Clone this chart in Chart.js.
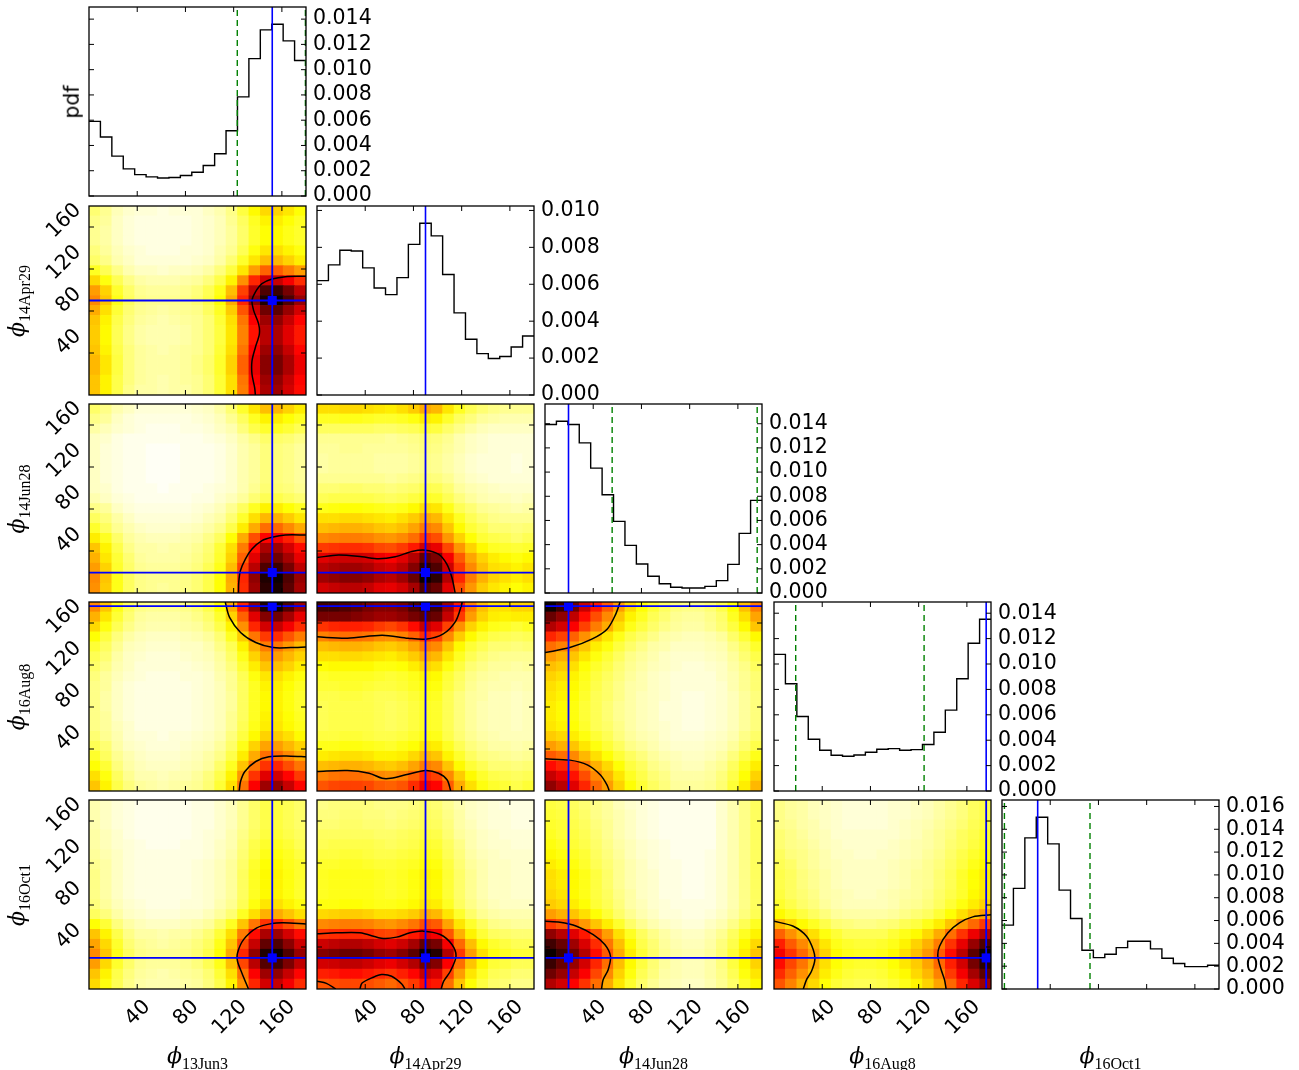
<!DOCTYPE html>
<html>
<head>
<meta charset="utf-8">
<script src="https://cdn.jsdelivr.net/npm/chart.js@4.4.0/dist/chart.umd.min.js"></script>
<style>
    body { margin: 0; background: #fff; width: 1299px; height: 1070px; position: relative; overflow: hidden; }
    canvas { position: absolute; }
    .lab { position: absolute; white-space: nowrap; color: #000; line-height: 1; }
    .phi { font-family: 'DejaVu Serif', serif; font-style: italic; font-size: 22px; }
    .sub { font-family: 'Liberation Serif', serif; font-size: 16px; position: relative; top: 6px; }
    .pdf { font-family: 'DejaVu Sans', sans-serif; font-size: 20.5px; }
</style>
</head>
<body>
<script>
// parameters, in panel order
var variables = ['13Jun3', '14Apr29', '14Jun28', '16Aug8', '16Oct1'];
var binEdges = [0, 9.47, 18.95, 28.42, 37.89, 47.37, 56.84, 66.32, 75.79, 85.26, 94.74,
    104.21, 113.68, 123.16, 132.63, 142.11, 151.58, 161.05, 170.53, 180];
var angleTicks = [40, 80, 120, 160];

// 1D marginal pdfs (19 bins each)
var pdf13Jun3 = [0.00591, 0.00467, 0.00316, 0.00215, 0.00169, 0.00151, 0.00143, 0.00146, 0.00162, 0.00188,
    0.00241, 0.00334, 0.00517, 0.00785, 0.01087, 0.01315, 0.0136, 0.01228, 0.01072];
var pdf14Apr29 = [0.0062, 0.00705, 0.00784, 0.0078, 0.00689, 0.0058, 0.00544, 0.00636, 0.00816, 0.00931,
    0.00862, 0.00653, 0.00445, 0.00302, 0.00224, 0.00198, 0.00209, 0.0026, 0.0032];
var pdf14Jun28 = [0.01394, 0.01421, 0.01394, 0.01242, 0.01033, 0.00813, 0.00592, 0.00394, 0.0024, 0.00138,
    0.00077, 0.00047, 0.00041, 0.00041, 0.00055, 0.00102, 0.00237, 0.00493, 0.00766];
var pdf16Aug8 = [0.01076, 0.00845, 0.00587, 0.00408, 0.00321, 0.00282, 0.00274, 0.00284, 0.00305, 0.00329,
    0.00334, 0.00321, 0.00326, 0.00366, 0.00463, 0.00637, 0.00884, 0.01163, 0.01353];
var pdf16Oct1 = [0.0056, 0.00882, 0.01325, 0.01506, 0.01272, 0.00867, 0.00618, 0.0034, 0.00275, 0.00305,
    0.00363, 0.00419, 0.00419, 0.00352, 0.0027, 0.00223, 0.00196, 0.00196, 0.00208];

var pdfTicks13Jun3 = [0, 0.002, 0.004, 0.006, 0.008, 0.010, 0.012, 0.014];
var pdfTicks14Apr29 = [0, 0.002, 0.004, 0.006, 0.008, 0.010];
var pdfTicks14Jun28 = [0, 0.002, 0.004, 0.006, 0.008, 0.010, 0.012, 0.014];
var pdfTicks16Aug8 = [0, 0.002, 0.004, 0.006, 0.008, 0.010, 0.012, 0.014];
var pdfTicks16Oct1 = [0, 0.002, 0.004, 0.006, 0.008, 0.010, 0.012, 0.014, 0.016];

// best values (blue) and interval bounds (green dashed)
var bestFit = [152, 90, 19.5, 176, 29.6];
var interval13Jun3 = [123, 179.5];
var interval14Apr29 = [];
var interval14Jun28 = [55.7, 176];
var interval16Aug8 = [18, 124.5];
var interval16Oct1 = [2, 73];

// 2D densities, percent of panel maximum; first string = top row (y bin 18)
var grid14Apr29_13Jun3 = [
    '14 11 7 5 4 4 3 4 4 4 6 8 12 19 26 31 32 29 25',
    '12 10 6 4 3 3 3 3 3 4 5 7 11 16 22 27 28 25 22',
    '11 9 6 4 3 3 3 3 3 4 5 7 10 15 21 25 26 23 21',
    '11 9 6 4 3 3 3 3 3 4 5 7 10 15 21 25 26 23 21',
    '13 10 7 5 4 3 3 3 4 4 5 8 11 17 24 29 30 27 24',
    '15 12 8 6 4 4 4 4 4 5 6 9 14 21 29 35 36 32 28',
    '22 17 12 8 6 6 5 6 6 7 9 13 19 29 40 49 50 45 40',
    '31 24 17 12 9 8 8 8 9 10 13 18 27 42 58 70 72 65 57',
    '40 32 21 15 11 10 10 10 11 13 17 23 35 54 74 90 93 84 73',
    '43 34 23 16 12 11 11 11 12 14 18 25 38 58 80 97 100 90 79',
    '38 30 20 14 11 10 9 10 11 12 16 22 33 51 70 85 88 79 70',
    '34 27 18 13 10 9 8 9 10 11 14 20 30 46 64 78 80 72 63',
    '33 26 17 12 9 8 8 8 9 11 14 19 29 44 61 74 76 68 60',
    '33 26 17 12 9 8 8 8 9 11 14 19 29 44 61 74 76 68 60',
    '34 27 18 13 10 9 8 9 10 11 14 20 30 46 64 78 80 72 63',
    '36 29 19 13 10 9 9 9 10 12 15 21 32 49 67 81 84 76 66',
    '36 29 19 13 10 9 9 9 10 12 15 21 32 49 67 81 84 76 66',
    '34 27 18 13 10 9 8 9 10 11 14 20 30 46 64 78 80 72 63',
    '34 27 18 12 9 9 8 9 9 11 14 20 30 45 62 76 78 70 62'
];
var grid14Jun28_13Jun3 = [
    '15 12 8 6 4 4 4 4 4 5 6 9 14 21 29 35 36 32 28',
    '12 10 6 4 3 3 3 3 3 4 5 7 11 16 22 27 28 25 22',
    '9 7 5 4 3 2 2 2 3 3 4 6 8 13 18 21 22 20 17',
    '6 5 3 2 2 2 2 2 2 2 3 4 6 9 12 15 15 14 12',
    '6 4 3 2 2 1 1 1 2 2 2 3 5 8 10 13 13 12 10',
    '6 4 3 2 2 1 1 1 2 2 2 3 5 8 10 13 13 12 10',
    '6 4 3 2 2 1 1 1 2 2 2 3 5 8 10 13 13 12 10',
    '6 4 3 2 2 1 1 1 2 2 2 3 5 8 10 13 13 12 10',
    '6 5 3 2 2 2 1 2 2 2 3 4 5 8 11 14 14 13 11',
    '8 6 4 3 2 2 2 2 2 3 3 5 7 10 14 17 18 16 14',
    '12 10 6 4 3 3 3 3 3 4 5 7 11 16 22 27 28 25 22',
    '16 13 9 6 4 4 4 4 4 5 7 9 14 21 30 36 37 33 29',
    '21 16 11 8 6 5 5 5 6 7 9 12 18 28 38 47 48 43 38',
    '28 22 15 10 8 7 7 7 8 9 12 16 25 38 52 63 65 59 51',
    '34 27 18 12 9 9 8 9 9 11 14 20 30 45 62 76 78 70 62',
    '37 29 20 14 10 9 9 9 10 12 15 21 32 49 68 82 85 77 67',
    '40 32 21 15 11 10 10 10 11 13 17 23 35 54 74 90 93 84 73',
    '43 34 23 16 12 11 11 11 12 14 18 25 38 58 80 97 100 90 79',
    '42 33 23 16 12 11 10 11 12 14 18 25 37 57 78 95 98 88 77'
];
var grid16Aug8_13Jun3 = [
    '43 34 23 16 12 11 11 11 12 14 18 25 38 58 80 97 100 90 79',
    '37 29 20 14 10 9 9 9 10 12 15 21 32 49 68 82 85 77 67',
    '31 24 17 12 9 8 8 8 9 10 13 18 27 42 58 70 72 65 57',
    '25 19 13 9 7 6 6 6 7 8 10 14 22 33 46 55 57 51 45',
    '20 16 11 7 6 5 5 5 6 6 8 12 17 27 37 45 46 41 36',
    '17 14 9 6 5 4 4 4 5 6 7 10 15 23 32 39 40 36 32',
    '15 12 8 6 4 4 4 4 4 5 6 9 13 20 28 34 35 32 28',
    '13 10 7 5 4 3 3 3 4 4 5 8 11 17 24 29 30 27 24',
    '12 10 6 4 3 3 3 3 3 4 5 7 11 16 22 27 28 25 22',
    '12 9 6 4 3 3 3 3 3 4 5 7 10 16 22 26 27 24 21',
    '12 9 6 4 3 3 3 3 3 4 5 7 10 16 22 26 27 24 21',
    '12 10 6 4 3 3 3 3 3 4 5 7 11 16 22 27 28 25 22',
    '12 10 7 5 3 3 3 3 3 4 5 7 11 17 23 28 29 26 23',
    '14 11 8 5 4 4 3 4 4 5 6 8 13 19 26 32 33 30 26',
    '17 14 9 6 5 4 4 4 5 6 7 10 15 23 32 39 40 36 32',
    '21 16 11 8 6 5 5 5 6 7 9 12 18 28 38 47 48 43 38',
    '25 20 13 9 7 6 6 6 7 8 10 15 22 34 46 56 58 52 46',
    '30 24 16 11 8 8 7 8 8 10 13 18 27 41 56 68 70 63 55',
    '34 27 18 13 10 9 8 9 10 11 14 20 30 46 64 78 80 72 63'
];
var grid16Oct1_13Jun3 = [
    '8 6 4 3 2 2 2 2 2 3 3 5 7 11 15 18 19 17 15',
    '8 6 4 3 2 2 2 2 2 3 3 5 7 11 15 18 19 17 15',
    '8 6 4 3 2 2 2 2 2 3 3 5 7 11 15 18 19 17 15',
    '9 7 5 3 2 2 2 2 2 3 4 5 8 12 16 19 20 18 16',
    '9 7 5 4 3 2 2 2 3 3 4 6 8 13 18 21 22 20 17',
    '10 8 6 4 3 3 3 3 3 3 4 6 9 14 19 23 24 22 19',
    '11 9 6 4 3 3 3 3 3 4 5 7 10 15 21 25 26 23 21',
    '12 9 6 4 3 3 3 3 3 4 5 7 10 16 22 26 27 24 21',
    '12 9 6 4 3 3 3 3 3 4 5 7 10 16 22 26 27 24 21',
    '12 9 6 4 3 3 3 3 3 4 5 7 10 16 22 26 27 24 21',
    '13 10 7 5 4 3 3 3 4 4 5 8 11 17 24 29 30 27 24',
    '16 13 9 6 5 4 4 4 5 5 7 10 14 22 30 37 38 34 30',
    '25 20 13 9 7 6 6 6 7 8 10 15 22 34 46 56 58 52 46',
    '34 27 18 12 9 9 8 9 9 11 14 20 30 45 62 76 78 70 62',
    '39 31 21 14 11 10 9 10 11 13 16 23 34 52 72 87 90 81 71',
    '43 34 23 16 12 11 11 11 12 14 18 25 38 58 80 97 100 90 79',
    '40 31 21 15 11 10 10 10 11 13 17 23 35 53 74 89 92 83 73',
    '34 27 18 13 10 9 8 9 10 11 14 20 30 46 64 78 80 72 63',
    '31 24 17 12 9 8 8 8 9 10 13 18 27 42 58 70 72 65 57'
];
var grid14Jun28_14Apr29 = [
    '30 30 31 31 30 29 28 30 33 38 36 29 22 17 14 12 11 11 11',
    '22 22 23 23 22 21 21 22 24 28 27 21 16 13 10 9 8 8 8',
    '16 16 16 16 16 15 15 16 17 20 19 15 12 9 7 6 6 6 6',
    '11 11 11 11 11 11 10 11 12 14 13 11 8 6 5 4 4 4 4',
    '10 10 11 11 10 10 10 10 11 13 12 10 8 6 5 4 4 4 4',
    '9 10 10 10 10 9 9 9 10 12 11 9 7 5 4 4 4 3 4',
    '9 10 10 10 10 9 9 9 10 12 11 9 7 5 4 4 4 3 4',
    '11 11 11 11 11 11 10 11 12 14 13 11 8 6 5 4 4 4 4',
    '14 14 15 15 14 14 13 14 15 18 17 14 10 8 7 6 5 5 5',
    '17 18 18 18 18 17 16 17 19 22 21 17 13 10 8 7 7 6 7',
    '23 24 25 25 24 23 22 23 26 30 29 23 17 14 11 10 9 8 9',
    '30 30 31 31 30 29 28 30 33 38 36 29 22 17 14 12 11 11 11',
    '35 36 37 37 36 34 33 35 39 45 43 34 26 20 17 14 14 13 14',
    '43 44 45 45 44 42 41 43 47 55 52 41 32 25 20 18 17 15 17',
    '55 56 57 57 56 53 52 55 60 70 67 53 41 32 26 22 21 20 21',
    '68 70 71 71 70 66 64 68 75 87 83 65 50 39 32 28 26 24 26',
    '74 76 78 78 76 72 70 74 82 95 90 71 55 43 35 30 29 27 29',
    '78 80 82 82 80 76 74 78 86 100 95 75 58 45 37 32 30 28 30',
    '70 72 74 74 72 68 67 70 77 90 86 68 52 41 33 29 27 25 27'
];
var grid16Aug8_14Apr29 = [
    '92 92 90 88 84 82 82 84 90 94 92 78 60 44 35 30 30 32 32',
    '84 84 84 82 80 78 78 80 84 88 86 72 55 40 32 28 27 28 28',
    '56 58 59 59 58 55 53 56 62 72 68 54 42 32 27 23 22 20 22',
    '44 46 47 47 46 43 42 44 49 57 54 43 33 26 21 18 17 16 17',
    '35 36 37 37 36 34 33 35 39 45 43 34 26 20 17 14 14 13 14',
    '30 30 31 31 30 29 28 30 33 38 36 29 22 17 14 12 11 11 11',
    '25 26 26 26 26 24 24 25 28 32 30 24 19 14 12 10 10 9 10',
    '21 22 22 22 22 21 20 21 23 27 26 20 16 12 10 9 8 8 8',
    '20 20 21 21 20 19 19 20 22 25 24 19 15 11 9 8 8 7 8',
    '18 18 19 19 18 17 17 18 20 23 22 17 13 10 9 7 7 6 7',
    '17 18 18 18 18 17 16 17 19 22 21 17 13 10 8 7 7 6 7',
    '17 18 18 18 18 17 16 17 19 22 21 17 13 10 8 7 7 6 7',
    '17 18 18 18 18 17 16 17 19 22 21 17 13 10 8 7 7 6 7',
    '19 19 20 20 19 18 18 19 21 24 23 18 14 11 9 8 7 7 7',
    '23 23 24 24 23 22 21 23 25 29 28 22 17 13 11 9 9 8 9',
    '28 29 30 30 29 27 27 28 31 36 34 27 21 16 13 12 11 10 11',
    '35 36 37 37 36 34 33 35 39 45 43 34 26 20 17 14 14 13 14',
    '44 46 47 47 46 43 42 44 49 57 54 43 33 26 21 18 17 16 17',
    '51 53 54 54 53 50 49 51 57 66 63 50 38 30 24 21 20 18 20'
];
var grid16Oct1_14Apr29 = [
    '12 13 13 13 13 12 12 12 13 15 14 11 8 6 5 4 3 3 3',
    '13 13 14 14 13 13 12 13 14 16 15 12 9 6 5 4 4 3 3',
    '14 14 15 15 14 14 13 14 15 17 16 13 9 7 5 4 4 3 3',
    '16 16 16 16 16 15 15 16 17 19 18 14 10 8 6 5 4 4 4',
    '17 18 18 18 18 17 16 17 18 21 20 16 12 8 6 5 5 4 4',
    '19 19 20 20 19 18 18 19 20 23 22 17 13 9 7 6 5 5 5',
    '21 21 22 22 21 20 20 21 22 25 24 19 14 10 8 6 6 5 5',
    '22 23 23 23 23 22 21 22 24 27 26 20 15 11 8 6 6 5 5',
    '22 23 23 23 23 22 21 22 24 27 26 20 15 11 8 6 6 5 5',
    '22 23 23 23 23 22 21 22 24 27 26 20 15 11 8 6 6 5 5',
    '24 24 25 25 24 23 23 24 26 29 28 22 16 12 9 7 6 6 6',
    '31 32 33 33 32 30 30 31 33 38 36 29 21 15 11 9 8 8 8',
    '43 44 45 45 44 42 41 43 46 52 50 39 29 21 16 12 11 10 10',
    '56 57 58 58 57 54 53 56 60 68 65 51 37 27 20 16 15 14 14',
    '71 73 75 75 73 70 68 71 77 87 84 65 48 35 26 21 19 17 17',
    '82 84 86 86 84 80 78 82 88 100 96 75 55 40 30 24 22 20 20',
    '70 71 73 73 71 68 66 70 75 85 82 64 47 34 26 20 19 17 17',
    '59 60 62 62 60 58 56 59 63 72 69 54 40 29 22 17 16 14 14',
    '51 52 53 53 52 50 48 51 55 62 60 47 34 25 19 15 14 12 12'
];
var grid16Aug8_14Jun28 = [
    '100 93 85 72 60 50 40 31 25 20 16 13 12 12 14 18 25 35 45',
    '86 80 73 62 52 43 34 27 22 17 14 11 10 10 12 15 22 30 39',
    '75 70 64 54 45 38 30 23 19 15 12 10 9 9 11 14 19 26 34',
    '58 54 49 42 35 29 23 18 15 12 9 8 7 7 8 10 15 20 26',
    '47 44 40 34 28 24 19 15 12 9 8 6 6 6 7 8 12 16 21',
    '40 37 34 29 24 20 16 12 10 8 6 5 5 5 6 7 10 14 18',
    '35 33 30 25 21 18 14 11 9 7 6 5 4 4 5 6 9 12 16',
    '32 30 27 23 19 16 13 10 8 6 5 4 4 4 4 6 8 11 14',
    '30 28 26 22 18 15 12 9 8 6 5 4 4 4 4 5 8 11 14',
    '29 27 25 21 17 15 12 9 7 6 5 4 3 3 4 5 7 10 13',
    '28 26 24 20 17 14 11 9 7 6 4 4 3 3 4 5 7 10 13',
    '28 26 24 20 17 14 11 9 7 6 4 4 3 3 4 5 7 10 13',
    '29 27 25 21 17 15 12 9 7 6 5 4 3 3 4 5 7 10 13',
    '33 31 28 24 20 17 13 10 8 7 5 4 4 4 5 6 8 12 15',
    '40 37 34 29 24 20 16 12 10 8 6 5 5 5 6 7 10 14 18',
    '50 47 43 36 30 25 20 16 13 10 8 7 6 6 7 9 13 18 23',
    '62 58 53 45 37 31 25 19 16 12 10 8 7 7 9 11 16 22 28',
    '72 67 61 52 43 36 29 22 18 14 12 9 9 9 10 13 18 25 32',
    '80 74 68 58 48 40 32 25 20 16 13 10 10 10 11 14 20 28 36'
];
var grid16Oct1_14Jun28 = [
    '19 18 16 14 12 10 7 5 4 3 2 2 2 2 2 5 8 12 16',
    '20 19 17 15 12 10 8 6 4 3 2 2 2 2 2 5 8 12 16',
    '21 20 18 16 13 11 8 6 4 3 2 2 2 2 2 5 8 12 16',
    '22 20 19 17 14 11 8 6 4 3 2 2 2 2 2 5 8 12 16',
    '24 22 20 18 15 12 9 7 5 4 3 2 2 2 2 5 8 12 16',
    '26 24 22 20 16 13 10 7 5 4 3 2 2 2 3 5 8 12 16',
    '28 26 24 21 17 14 11 8 6 4 3 3 2 2 3 5 8 12 16',
    '30 28 26 23 19 15 11 8 6 5 3 3 2 2 3 5 8 12 16',
    '30 28 26 23 19 15 11 8 6 5 3 3 2 2 3 5 8 12 16',
    '31 29 26 23 19 16 12 9 6 5 3 3 2 2 3 5 8 12 16',
    '33 31 28 25 20 17 13 9 7 5 4 3 3 3 3 5 8 12 16',
    '40 37 34 30 25 20 15 11 8 6 4 4 3 3 4 6 9 13 17',
    '55 51 47 41 34 28 21 15 11 8 6 5 4 4 6 8 12 17 22',
    '80 74 68 60 50 40 30 22 16 12 9 7 6 6 8 11 16 22 27',
    '92 86 78 69 57 46 35 26 18 14 10 8 7 7 9 13 18 26 31',
    '100 93 85 75 62 50 38 28 20 15 11 9 8 8 10 14 20 28 34',
    '93 86 79 70 58 47 35 26 19 14 10 8 7 7 9 13 19 26 32',
    '85 79 72 64 53 43 32 24 17 13 9 8 7 7 9 12 17 24 29',
    '75 70 64 56 47 38 29 21 15 11 8 7 6 6 8 11 15 21 26'
];
var grid16Oct1_16Aug8 = [
    '12 10 9 7 6 5 4 4 4 4 5 5 6 7 9 11 13 16 18',
    '12 10 9 7 6 5 4 4 4 4 5 5 6 7 9 11 13 16 18',
    '12 11 9 8 6 5 4 4 4 4 5 6 7 8 10 12 14 17 19',
    '14 12 10 8 7 5 5 5 5 5 5 6 7 9 11 13 16 18 21',
    '14 12 11 9 7 6 5 5 5 5 6 7 8 9 11 14 16 19 22',
    '16 13 12 10 8 6 6 5 5 6 6 7 8 10 12 15 18 21 24',
    '17 15 12 10 8 7 6 6 6 6 7 8 9 11 13 16 19 23 26',
    '18 16 13 11 9 7 6 6 6 6 7 8 10 11 14 17 21 25 28',
    '18 16 13 11 9 7 6 6 6 6 7 8 10 11 14 17 21 25 28',
    '19 16 14 12 9 8 7 6 6 7 8 9 10 12 15 18 21 26 29',
    '21 18 15 13 10 8 7 7 7 7 8 10 11 13 16 20 24 28 32',
    '26 22 19 16 13 10 9 9 9 9 10 12 14 16 20 25 30 35 40',
    '36 31 26 22 18 14 13 12 12 13 14 17 19 23 28 34 41 48 55',
    '49 42 36 30 24 20 17 17 17 17 20 23 26 31 38 47 56 66 75',
    '59 50 43 36 29 23 21 20 20 21 23 27 32 37 45 56 67 79 90',
    '65 56 48 40 32 26 23 22 22 23 26 30 35 41 50 62 74 88 100',
    '62 53 46 38 30 25 22 21 21 22 25 29 33 39 48 59 70 84 95',
    '57 49 42 35 28 23 20 19 19 20 23 26 31 36 44 55 65 77 88',
    '51 44 37 31 25 20 18 17 17 18 20 23 27 32 39 48 58 69 78'
];

// contour lines, [x, y] in degrees
var contour14Apr29_13Jun3 = [
    [[180, 113], [162.8, 112.7], [151.8, 110.4], [143.5, 106], [138, 98], [135.2, 90], [136.6, 80.4],
     [140.7, 67.7], [141.3, 58], [138, 45.3], [135.2, 32.5], [135.2, 19.8], [137.4, 7], [138, 0]]
];
var contour14Jun28_13Jun3 = [
    [[180, 55.2], [162.8, 55.2], [151.8, 53], [143.5, 49.8], [135.2, 41.8], [129.7, 32.3], [125.5, 21],
     [124.2, 9.9], [124, 0]]
];
var contour16Aug8_13Jun3 = [
    [[113, 180], [116.6, 165.3], [125.7, 151], [138.3, 141.4], [152.8, 136.6], [167.4, 136.6], [180, 137.2]],
    [[180, 32.6], [167.4, 33.2], [149.2, 32.6], [138.3, 28.1], [129.3, 18.5], [125.7, 9], [124.6, 0]]
];
var contour16Oct1_13Jun3 = [
    [[180, 62], [161.3, 63], [151.6, 62.3], [139.2, 58.2], [128.2, 47], [123.2, 34.3], [123.2, 26.4],
     [126.8, 15.3], [132.3, 0]]
];
var contour14Jun28_14Apr29 = [
    [[0, 33.8], [17.9, 36.1], [37.3, 34.5], [51.1, 32.6], [64.9, 34.5], [78.7, 39.5], [89.7, 40.8],
     [100.8, 37], [107.7, 27.5], [111.9, 14.7], [114.6, 0]]
];
var contour16Aug8_14Apr29 = [
    [[0, 146.8], [25.2, 145.5], [54, 148.4], [75.6, 145.5], [90, 144.6], [104.4, 149.4], [115.2, 162.1], [120.6, 180]],
    [[0, 18.5], [25.2, 19.5], [43.2, 16.9], [54, 12.1], [61.2, 12.1], [75.6, 16], [90, 19.5], [100.8, 16.9],
     [108, 10.5], [110.9, 0]]
];
var contour16Oct1_14Apr29 = [
    [[0, 52.6], [16.1, 53.5], [35.6, 53.5], [55, 48.1], [66.1, 49.4], [77.2, 53.5], [88.3, 55.1], [102.2, 51.9],
     [111.9, 42.4], [115.3, 31.2], [110.6, 16.9], [105, 7.3], [103, 0]],
    [[0, 7.3], [7.8, 5.4], [15.6, 0]],
    [[35.6, 0], [37.4, 5.7], [46.7, 11.2], [53.6, 13.7], [61.9, 12.1], [70.3, 4.8], [73, 0]]
];
var contour16Aug8_14Jun28 = [
    [[0, 131.8], [20.6, 136.6], [38.8, 144.6], [51.5, 154.1], [58.7, 168.5], [62.3, 180]],
    [[0, 30.6], [20.6, 29.4], [35.1, 24.9], [46, 15.3], [51.5, 5.7], [53.3, 0]]
];
var contour16Oct1_14Jun28 = [
    [[0, 64.5], [12.4, 63.6], [26.2, 59.8], [40, 51.8], [49.6, 42.3], [54.3, 31.2], [52.4, 18.4], [48.2, 8.9], [46.9, 0]]
];
var contour16Oct1_16Aug8 = [
    [[0, 64.5], [16, 59.8], [27, 50.3], [32.5, 37.6], [33.9, 28], [31.1, 16.9], [27, 8.9], [24.3, 0]],
    [[180, 70.6], [164.9, 68.7], [153.8, 63], [144.1, 53.4], [137.3, 40.7], [135.9, 31.2], [138.6, 18.5],
     [141.4, 8.9], [142.8, 0]]
];

var pdfs = [pdf13Jun3, pdf14Apr29, pdf14Jun28, pdf16Aug8, pdf16Oct1];
var pdfTicks = [pdfTicks13Jun3, pdfTicks14Apr29, pdfTicks14Jun28, pdfTicks16Aug8, pdfTicks16Oct1];
var intervals = [interval13Jun3, interval14Apr29, interval14Jun28, interval16Aug8, interval16Oct1];
var grids = {
    '1,0': grid14Apr29_13Jun3, '2,0': grid14Jun28_13Jun3, '3,0': grid16Aug8_13Jun3, '4,0': grid16Oct1_13Jun3,
    '2,1': grid14Jun28_14Apr29, '3,1': grid16Aug8_14Apr29, '4,1': grid16Oct1_14Apr29,
    '3,2': grid16Aug8_14Jun28, '4,2': grid16Oct1_14Jun28, '4,3': grid16Oct1_16Aug8
};
var contours = {
    '1,0': contour14Apr29_13Jun3, '2,0': contour14Jun28_13Jun3, '3,0': contour16Aug8_13Jun3, '4,0': contour16Oct1_13Jun3,
    '2,1': contour14Jun28_14Apr29, '3,1': contour16Aug8_14Apr29, '4,1': contour16Oct1_14Apr29,
    '3,2': contour16Aug8_14Jun28, '4,2': contour16Oct1_14Jun28, '4,3': contour16Oct1_16Aug8
};

(function () {
    var ML = 60, MR = 80, MT = 10, MB = 60;
    var panelLeft = [89, 317, 545, 774, 1002];
    var panelTop = [7, 206, 404, 602, 800];
    var PW = 217, PH = 189;
    var tickFont = { family: 'DejaVu Sans', size: 20.5 };
    var BLUE = '#0000ff';

    function hotR(v) {
        var x = 1 - Math.max(0, Math.min(1, v));
        var r = x < 0.365079 ? 0.0416 + 0.9584 * x / 0.365079 : 1;
        var g = x < 0.365079 ? 0 : (x < 0.746032 ? (x - 0.365079) / 0.380953 : 1);
        var b = x < 0.746032 ? 0 : (x - 0.746032) / 0.253968;
        return 'rgb(' + Math.round(r * 255) + ',' + Math.round(g * 255) + ',' + Math.round(b * 255) + ')';
    }

    function addCanvas(row, col) {
        var canvas = document.createElement('canvas');
        canvas.width = ML + PW + MR;
        canvas.height = MT + PH + MB;
        canvas.style.left = (panelLeft[col] - ML) + 'px';
        canvas.style.top = (panelTop[row] - MT) + 'px';
        document.body.appendChild(canvas);
        return canvas;
    }

    function fixedTicks(values) {
        return function (scale) {
            scale.ticks = values.map(function (v) { return { value: v }; });
        };
    }

    // keep every axis box at a fixed size, with no label overhang padding
    function fixedBox(size) {
        return function (s) {
            if (s.isHorizontal()) {
                s.height = size;
            } else {
                s.width = size;
            }
            s.paddingLeft = 0;
            s.paddingRight = 0;
            s.paddingTop = 0;
            s.paddingBottom = 0;
        };
    }

    function points(list) {
        return list.map(function (p) { return { x: p[0], y: p[1] }; });
    }

    function lineSet(list, color, width, dash, order) {
        return {
            type: 'line', xAxisID: 'x', yAxisID: 'y',
            data: points(list),
            borderColor: color, borderWidth: width, borderDash: dash || [],
            pointRadius: 0, fill: false, tension: 0, order: order
        };
    }

    var framePlugin = {
        id: 'frame',
        afterDatasetsDraw: function (chart) {
            var a = chart.chartArea;
            var ctx = chart.ctx;
            var xs = chart.scales.x;
            var ys = chart.scales.y;
            ctx.save();
            ctx.strokeStyle = '#000';
            ctx.lineWidth = 1;
            ctx.beginPath();
            xs.ticks.forEach(function (t) {
                var px = xs.getPixelForValue(t.value);
                ctx.moveTo(px, a.bottom);
                ctx.lineTo(px, a.bottom - 5);
                ctx.moveTo(px, a.top);
                ctx.lineTo(px, a.top + 5);
            });
            ys.ticks.forEach(function (t) {
                var py = ys.getPixelForValue(t.value);
                ctx.moveTo(a.left, py);
                ctx.lineTo(a.left + 5, py);
                ctx.moveTo(a.right, py);
                ctx.lineTo(a.right - 5, py);
            });
            ctx.stroke();
            ctx.lineWidth = 1.3;
            ctx.strokeRect(a.left, a.top, a.right - a.left, a.bottom - a.top);
            ctx.restore();
        }
    };

    function xScale(showLabels) {
        return {
            type: 'linear', position: 'bottom', min: 0, max: 180, offset: false,
            afterBuildTicks: fixedTicks(angleTicks),
            afterFit: fixedBox(MB),
            grid: { display: false, drawTicks: false, offset: false },
            border: { display: false },
            ticks: {
                display: showLabels, font: tickFont, color: '#000', autoSkip: false,
                minRotation: 45, maxRotation: 45, padding: 6, labelOffset: 10
            }
        };
    }

    function drawDiagonal(k) {
        var pdf = pdfs[k];
        var top = 1.1 * Math.max.apply(null, pdf);
        var step = pdf.map(function (v, i) { return [binEdges[i], v]; });
        step.push([180, pdf[pdf.length - 1]]);

        var datasets = [];
        datasets.push({
            type: 'line', xAxisID: 'x', yAxisID: 'y', data: points(step),
            stepped: 'before', borderColor: '#000', borderWidth: 1.4,
            pointRadius: 0, fill: false, order: 3
        });
        intervals[k].forEach(function (b) {
            datasets.push(lineSet([[b, 0], [b, top]], '#008000', 1.4, [6, 4], 2));
        });
        datasets.push(lineSet([[bestFit[k], 0], [bestFit[k], top]], BLUE, 1.6, null, 1));

        new Chart(addCanvas(k, k), {
            type: 'line',
            data: { datasets: datasets },
            options: {
                responsive: false, animation: false, events: [], devicePixelRatio: 1,
                layout: { autoPadding: false, padding: { left: ML, top: MT, right: 0, bottom: 0 } },
                plugins: { legend: { display: false }, tooltip: { enabled: false } },
                scales: {
                    x: xScale(false),
                    y: {
                        type: 'linear', position: 'right', min: 0, max: top,
                        afterBuildTicks: fixedTicks(pdfTicks[k]),
                        afterFit: fixedBox(MR),
                        grid: { display: false, drawTicks: false },
                        border: { display: false },
                        ticks: {
                            font: tickFont, color: '#000', padding: 7, autoSkip: false,
                            callback: function (value) { return Number(value).toFixed(3); }
                        }
                    }
                }
            },
            plugins: [framePlugin]
        });
    }

    function drawJoint(row, col) {
        var key = row + ',' + col;
        var rows = grids[key].slice().reverse().map(function (s) {
            return s.trim().split(/\s+/).map(Number);
        });

        var datasets = [];
        rows.forEach(function (vals, j) {
            datasets.push({
                type: 'bar', xAxisID: 'xb', yAxisID: 'y', grouped: false, order: 10,
                data: vals.map(function () { return [binEdges[j], binEdges[j + 1]]; }),
                backgroundColor: vals.map(function (v) { return hotR(v / 100); }),
                borderWidth: 0, barPercentage: 1, categoryPercentage: 1
            });
        });
        contours[key].forEach(function (c) {
            var ds = lineSet(c, '#000', 1.5, null, 3);
            ds.tension = 0.3;
            datasets.push(ds);
        });
        datasets.push(lineSet([[bestFit[col], 0], [bestFit[col], 180]], BLUE, 1.8, null, 2));
        datasets.push(lineSet([[0, bestFit[row]], [180, bestFit[row]]], BLUE, 1.8, null, 1));
        datasets.push({
            type: 'line', xAxisID: 'x', yAxisID: 'y', showLine: false,
            data: points([[bestFit[col], bestFit[row]]]),
            pointStyle: 'rect', pointRadius: 6.4, pointBackgroundColor: BLUE,
            pointBorderWidth: 0, order: 0
        });

        new Chart(addCanvas(row, col), {
            type: 'bar',
            data: { labels: binEdges.slice(0, rows[0].length), datasets: datasets },
            options: {
                responsive: false, animation: false, events: [], devicePixelRatio: 1,
                layout: { autoPadding: false, padding: { left: 0, top: MT, right: MR, bottom: 0 } },
                plugins: { legend: { display: false }, tooltip: { enabled: false } },
                scales: {
                    x: xScale(row === 4),
                    xb: { type: 'category', display: false, offset: true },
                    y: {
                        type: 'linear', position: 'left', min: 0, max: 180,
                        afterBuildTicks: fixedTicks(angleTicks),
                        afterFit: fixedBox(ML),
                        grid: { display: false, drawTicks: false },
                        border: { display: false },
                        ticks: {
                            display: col === 0, font: tickFont, color: '#000', autoSkip: false,
                            minRotation: 45, maxRotation: 45, padding: 11, labelOffset: -20
                        }
                    }
                }
            },
            plugins: [framePlugin]
        });
    }

    function addLabel(html, cls, x, y, rotate) {
        var div = document.createElement('div');
        div.className = 'lab ' + cls;
        div.innerHTML = html;
        div.style.left = x + 'px';
        div.style.top = y + 'px';
        div.style.transform = 'translate(-50%, -50%)' + (rotate ? ' rotate(-90deg)' : '');
        document.body.appendChild(div);
    }

    for (var k = 0; k < variables.length; k++) {
        drawDiagonal(k);
    }
    for (var r = 1; r < variables.length; r++) {
        for (var c = 0; c < r; c++) {
            drawJoint(r, c);
        }
    }

    variables.forEach(function (name, i) {
        var html = '<span class="phi">\u03d5</span><span class="sub">' + name + '</span>';
        addLabel(html, '', panelLeft[i] + PW / 2, 1056, false);
        if (i > 0) {
            addLabel(html, '', 17, panelTop[i] + PH / 2, true);
        }
    });
    addLabel('pdf', 'pdf', 72, panelTop[0] + PH / 2, true);
})();
</script>
</body>
</html>
